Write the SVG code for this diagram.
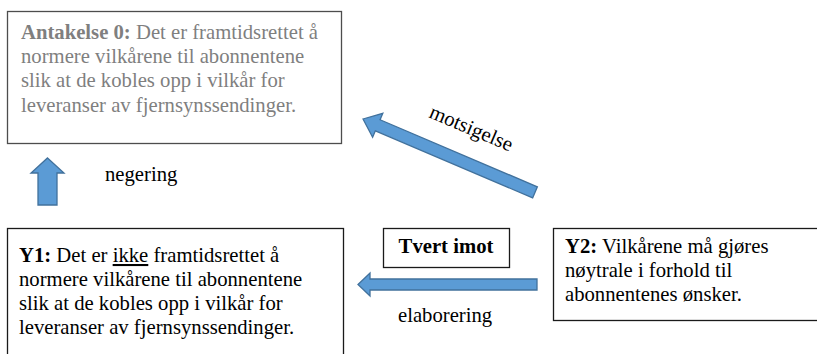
<svg xmlns="http://www.w3.org/2000/svg" width="817" height="354" viewBox="0 0 817 354">
<style>
  .box { fill: #ffffff; stroke: #1a1a1a; stroke-width: 1.3; }
  .t { font-family: "Liberation Serif", "Times New Roman", serif; font-size: 20.7px; fill: #000000; }
  .gray { fill: #7f7f7f; }
  .b { font-weight: bold; }
  .arrow { fill: #5b9bd5; stroke: #41719c; stroke-width: 1.3; stroke-linejoin: miter; }
</style>
<rect width="817" height="354" fill="#ffffff"/>

<g id="antakelse0">
  <rect class="box" x="7.5" y="11.5" width="334" height="132" style="stroke:#4d4d4d"/>
  <text class="t gray" x="21" y="39"><tspan class="b">Antakelse 0:</tspan> Det er framtidsrettet å</text>
  <text class="t gray" x="21" y="63">normere vilkårene til abonnentene</text>
  <text class="t gray" x="21" y="87">slik at de kobles opp i vilkår for</text>
  <text class="t gray" x="21" y="112">leveranser av fjernsynssendinger.</text>
</g>

<g id="y1">
  <rect class="box" x="7.5" y="228.5" width="336" height="140"/>
  <text class="t" x="19" y="262"><tspan class="b">Y1:</tspan> Det er <tspan text-decoration="underline">ikke</tspan> framtidsrettet å</text>
  <text class="t" x="19" y="286">normere vilkårene til abonnentene</text>
  <text class="t" x="19" y="310">slik at de kobles opp i vilkår for</text>
  <text class="t" x="19" y="334">leveranser av fjernsynssendinger.</text>
</g>

<g id="tvert-imot">
  <rect class="box" x="383.5" y="228.5" width="126" height="39"/>
  <text class="t b" x="446" y="253" text-anchor="middle">Tvert imot</text>
</g>

<g id="y2">
  <rect class="box" x="553.5" y="228.5" width="280" height="92"/>
  <text class="t" x="565" y="253"><tspan class="b">Y2:</tspan> Vilkårene må gjøres</text>
  <text class="t" x="565" y="277">nøytrale i forhold til</text>
  <text class="t" x="565" y="301">abonnentenes ønsker.</text>
</g>

<g id="connectors">
  <g id="negering">
    <polygon class="arrow" points="47.5,158 64,173 57,173 57,205 38,205 38,173 31,173"/>
    <text class="t" x="105" y="181">negering</text>
  </g>
  <g id="motsigelse">
    <polygon class="arrow" transform="translate(363,119) rotate(23.1)" points="0,0 16,-13 16,-6 187,-6 187,6 16,6 16,13"/>
    <text class="t" transform="translate(428,117) rotate(23)">motsigelse</text>
  </g>
  <g id="elaborering">
    <polygon class="arrow" points="358,284.5 370,273 370,279 537,279 537,290 370,290 370,296"/>
    <text class="t" x="398" y="322">elaborering</text>
  </g>
</g>
</svg>
